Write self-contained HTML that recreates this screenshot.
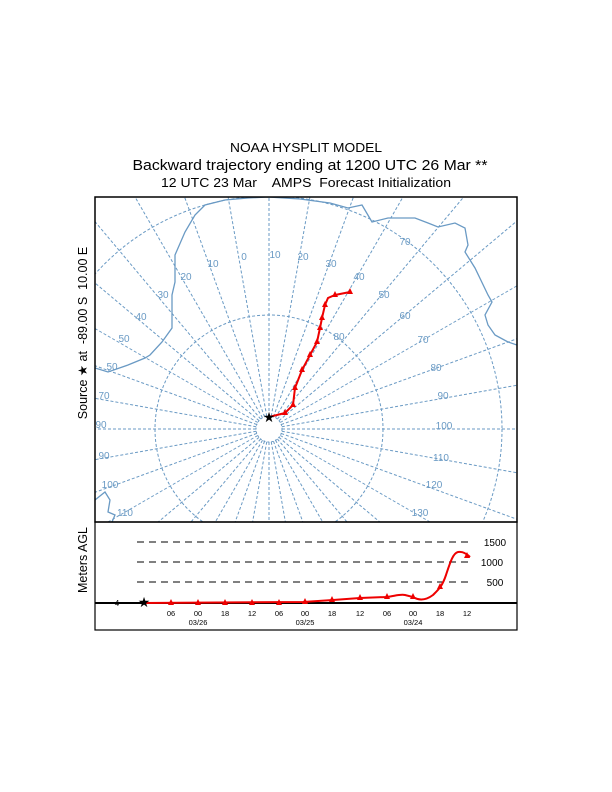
<!DOCTYPE html>
<html><head><meta charset="utf-8"><style>
html,body{margin:0;padding:0;background:#fff;width:612px;height:792px;overflow:hidden;}
svg{display:block;overflow:hidden;font-family:"Liberation Sans",Arial,sans-serif;}
</style></head><body>
<svg id="s" width="612" height="792" viewBox="0 0 612 792" xmlns="http://www.w3.org/2000/svg">
<defs><clipPath id="mc"><rect x="95" y="197" width="422" height="325"/></clipPath></defs>
<text x="306" y="152" font-size="12.5" text-anchor="middle" textLength="152" lengthAdjust="spacingAndGlyphs">NOAA HYSPLIT MODEL</text>
<text x="310" y="170" font-size="14.5" text-anchor="middle" textLength="355" lengthAdjust="spacingAndGlyphs">Backward trajectory ending at 1200 UTC 26 Mar **</text>
<text x="306" y="187" font-size="12.5" text-anchor="middle" textLength="290" lengthAdjust="spacingAndGlyphs" xml:space="preserve">12 UTC 23 Mar    AMPS  Forecast Initialization</text>
<g id="map" clip-path="url(#mc)" fill="none" stroke="#6a9ac4" stroke-width="1">
<circle cx="269" cy="429" r="13" stroke-dasharray="2,2"/>
<circle cx="269" cy="429" r="114" stroke-dasharray="3,2"/>
<circle cx="269" cy="429" r="233" stroke-dasharray="3,2"/>
<polyline stroke-width="1.3" points="95,368 108,372 128,365 145,358 150,355 162,342 172,328 172,295 175,282 175,255 185,232 195,215 205,205 225,200 248,198 268,197 300,199 330,203 348,208 362,205 372,222 388,218 415,218 428,223 438,227 455,223 465,228 468,245 465,252 475,268 488,295 492,302 485,315 488,325 495,335 508,342 517,345"/>
<polyline stroke-width="1.3" points="95,500 105,492 110,500 108,512 115,515 112,522"/>
</g>
<g font-size="10" fill="#6a9ac4" text-anchor="middle">
<text x="186" y="280">20</text><text x="213" y="267">10</text><text x="244" y="260">0</text><text x="275" y="258">10</text><text x="303" y="260">20</text><text x="331" y="267">30</text><text x="359" y="280">40</text><text x="384" y="298">50</text><text x="405" y="319">60</text><text x="423" y="343">70</text><text x="436" y="371">80</text><text x="443" y="399">90</text><text x="444" y="429">100</text><text x="441" y="461">110</text><text x="434" y="488">120</text><text x="420" y="516">130</text><text x="405" y="245">70</text><text x="339" y="340">80</text>
<text x="163" y="298">30</text><text x="141" y="320">40</text><text x="124" y="342">50</text><text x="112" y="370">50</text><text x="104" y="399">70</text><text x="101" y="428">90</text><text x="104" y="459">90</text><text x="110" y="488">100</text><text x="125" y="516">110</text>
</g>
<polyline fill="none" stroke="#e00" stroke-width="2" points="269,417 285,413 293,405 295,388 302,370 310,355 317,342 320,328 322,318 325,305 328,298 335,295 350,292"/>
<g id="tri" fill="#e00"></g>
<text x="269" y="422" font-size="14" text-anchor="middle">★</text>
<rect x="95" y="197" width="422" height="325" fill="none" stroke="#000" stroke-width="1.5"/>
<rect x="95" y="522" width="422" height="108" fill="none" stroke="#000" stroke-width="1.2"/>
<line x1="95" y1="603" x2="517" y2="603" stroke="#000" stroke-width="2"/>
<g stroke="#000" stroke-dasharray="7,5"><line x1="137" y1="542" x2="472" y2="542"/><line x1="137" y1="562" x2="472" y2="562"/><line x1="137" y1="582" x2="472" y2="582"/></g>
<g font-size="10" text-anchor="middle"><text x="495" y="546">1500</text><text x="492" y="566">1000</text><text x="495" y="586">500</text><text x="117" y="606" font-size="8">4</text></g>
<g id="ticks" font-size="7.5" text-anchor="middle"></g>
<g font-size="7.5" text-anchor="middle"><text x="198" y="625">03/26</text><text x="305" y="625">03/25</text><text x="413" y="625">03/24</text></g>
<path fill="none" stroke="#e00" stroke-width="2" d="M143,603 L303,602 L333,600 L360,598 L387,597 C395,596 400,594 405,595 L413,597 C418,600 425,601 433,595 C438,590 442,587 446,575 C450,563 453,553 458,552 C463,551 467,554 470,557"/>
<g id="tri2" fill="#e00"></g>
<text x="144" y="607" font-size="14" text-anchor="middle">★</text>
<text transform="translate(87,333) rotate(-90)" font-size="12.5" text-anchor="middle" xml:space="preserve">Source ★ at  -89.00 S  10.00 E</text>
<text transform="translate(87,560) rotate(-90)" font-size="12.5" text-anchor="middle">Meters AGL</text>
</svg>
<script>
var NS="http://www.w3.org/2000/svg",m=document.getElementById("map");
for(var i=0;i<36;i++){var a=i*10*Math.PI/180,l=document.createElementNS(NS,"line");
l.setAttribute("x1",269+13*Math.sin(a));l.setAttribute("y1",429-13*Math.cos(a));
l.setAttribute("x2",269+350*Math.sin(a));l.setAttribute("y2",429-350*Math.cos(a));
l.setAttribute("stroke-dasharray","3,2");m.appendChild(l);}
function tri(g,x,y){var p=document.createElementNS(NS,"polygon");p.setAttribute("points",(x-3)+","+(y+2)+" "+(x+3)+","+(y+2)+" "+x+","+(y-4));g.appendChild(p);}
var t=document.getElementById("tri");
[[293,405],[295,388],[302,370],[310,355],[317,342],[320,328],[322,318],[325,305],[335,295],[350,292],[285,413]].forEach(function(p){tri(t,p[0],p[1]);});
var t2=document.getElementById("tri2"),tk=document.getElementById("ticks");
var xs=[171,198,225,252,279,305,332,360,387,413,440,467],lb=["06","00","18","12","06","00","18","12","06","00","18","12"],ys=[603,603,603,603,603,602,600,598,597,597,587,556];
for(var j=0;j<12;j++){tri(t2,xs[j],ys[j]);var tx=document.createElementNS(NS,"text");tx.setAttribute("x",xs[j]);tx.setAttribute("y",616);tx.textContent=lb[j];tk.appendChild(tx);}
</script>
</body></html>
